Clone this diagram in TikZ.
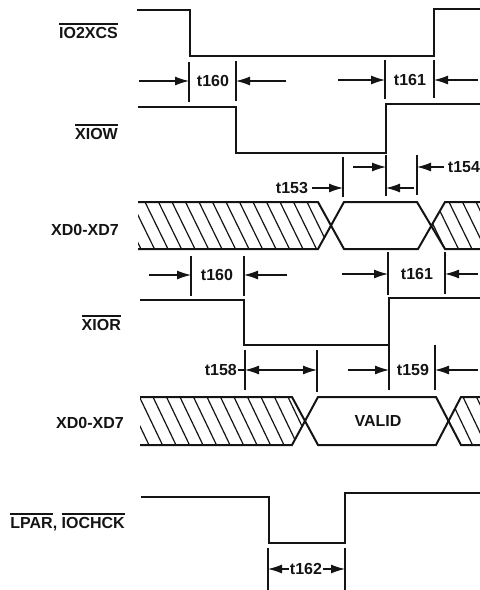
\documentclass[tikz,border=0pt]{standalone}
\usepackage{fontspec}
\setmainfont{Liberation Sans}
\usepackage{tikz}
\usetikzlibrary{arrows.meta,positioning,calc}
\definecolor{traceink}{RGB}{20,20,20}
\newcommand{\barsig}[1]{\begingroup\setbox0\hbox{#1}%
  \rlap{\rule[\dimexpr\ht0+2.2pt\relax]{\wd0}{1.3pt}}\box0\endgroup}

\begin{document}
\begin{tikzpicture}[
  x=1pt,y=-1pt,
  font=\bfseries\fontsize{16}{19}\selectfont,
  draw=traceink,text=traceink,
  signal/.style={line width=2pt,draw=traceink},
  tick/.style={line width=1.3pt,draw=traceink},
  dimarrow/.style={-{Latex[length=14pt,width=9pt]},line width=1.1pt,draw=traceink},
  bothways/.style={{Latex[length=14pt,width=9pt]}-{Latex[length=14pt,width=9pt]},line width=1.1pt,draw=traceink},
  hatch/.style={line width=1.2pt,draw=traceink},
  siglabel/.style={anchor=base east,inner sep=0pt},
  timelabel/.style={inner sep=1pt}
]
\useasboundingbox (0,0) rectangle (480,590);

% Signal names on the left.
\node[siglabel] (csName) at (118,38) {\barsig{IO2XCS}};
\node[siglabel] (iowName) at (118,139) {\barsig{XIOW}};
\node[siglabel] (busName1) at (119,235) {XD0-XD7};
\node[siglabel] (iorName) at (121,330) {\barsig{XIOR}};
\node[siglabel] (busName2) at (124,428) {XD0-XD7};
\node[siglabel] (parName) at (125,528) {\barsig{LPAR}, \barsig{IOCHCK}};

% Chip select and write strobe.
\draw[signal] (137,10) -- (190,10) -- (190,56) -- (434,56) -- (434,9) -- (480,9);
\draw[signal] (138,107) -- (236,107) -- (236,153) -- (386,153) -- (386,104) -- (480,104);

% t160 / t161 between IO2XCS and XIOW.
\coordinate (csFall) at (189,81);
\coordinate (iowFall) at (236,81);
\coordinate (iowRise) at (385,80);
\coordinate (csRise) at (434,80);
\draw[tick] (189,62) -- (189,102);
\draw[tick] (236,61) -- (236,101);
\draw[tick] (385,60) -- (385,99);
\draw[tick] (434,60) -- (434,98);
\node[timelabel] (t160a) at (213,81) {t160};
\node[timelabel] (t161a) at (410,80) {t161};
\draw[dimarrow] (139,81) -- (csFall);
\draw[dimarrow] (286,81) -- (iowFall);
\draw[dimarrow] (338,80) -- (iowRise);
\draw[dimarrow] (478,80) -- (csRise);

% t153 / t154 data setup and hold.
\coordinate (wrValid) at (343,188);
\coordinate (wrEdgeUp) at (386,167);
\coordinate (wrEdgeLo) at (386,188);
\coordinate (wrHold) at (417,167);
\draw[tick] (343,157) -- (343,197);
\draw[tick] (386,155) -- (386,196);
\draw[tick] (417,155) -- (417,195);
\node[timelabel,inner sep=4pt] (t153) at (292,188) {t153};
\node[timelabel,inner sep=4pt] (t154) at (464,167) {t154};
\draw[dimarrow] (t153.east) -- (wrValid);
\draw[dimarrow] (353,167) -- (wrEdgeUp);
\draw[dimarrow] (414,188) -- (wrEdgeLo);
\draw[dimarrow] (t154.west) -- (wrHold);

% Write data bus.
\begin{scope}
  \clip (138,202) -- (318,202) -- (331,225.5) -- (318,249) -- (138,249) -- cycle;
  \foreach \k in {0,...,15} \draw[hatch] (118+13.5*\k,202) -- (141+13.5*\k,249);
\end{scope}
\begin{scope}
  \clip (431,225.5) -- (445,202) -- (480,202) -- (480,249) -- (445,249) -- cycle;
  \foreach \k in {0,...,4} \draw[hatch] (422+13.5*\k,202) -- (445+13.5*\k,249);
\end{scope}
\draw[signal] (138,202) -- (318,202) -- (344,249) -- (418,249) -- (445,202) -- (480,202);
\draw[signal] (138,249) -- (318,249) -- (344,202) -- (417,202) -- (445,249) -- (480,249);

% t160 / t161 between IO2XCS and XIOR.
\coordinate (csFallB) at (191,275);
\coordinate (iorFall) at (244,275);
\coordinate (iorRise) at (388,274);
\coordinate (csRiseB) at (445,274);
\draw[tick] (191,256) -- (191,296);
\draw[tick] (244,256) -- (244,296);
\draw[tick] (388,252) -- (388,295);
\draw[tick] (445,252) -- (445,294);
\node[timelabel] (t160b) at (217,275) {t160};
\node[timelabel] (t161b) at (417,274) {t161};
\draw[dimarrow] (149,275) -- (csFallB);
\draw[dimarrow] (287,275) -- (iorFall);
\draw[dimarrow] (342,274) -- (iorRise);
\draw[dimarrow] (478,274) -- (csRiseB);

% Read strobe.
\draw[signal] (140,300) -- (244,300) -- (244,345) -- (389,345) -- (389,298) -- (480,298);

% t158 / t159 read data valid.
\coordinate (rdStart) at (245,370);
\coordinate (rdValid) at (317,370);
\coordinate (rdEdge) at (389,370);
\coordinate (rdHold) at (435,370);
\draw[tick] (245,350) -- (245,390);
\draw[tick] (317,350) -- (317,392);
\draw[tick] (389,345) -- (389,390);
\draw[tick] (435,345) -- (435,390);
\node[timelabel,anchor=east] (t158) at (238,370) {t158};
\node[timelabel] (t159) at (413,370) {t159};
\draw[line width=1.1pt] (t158.east) -- (rdStart);
\draw[bothways] (rdStart) -- (rdValid);
\draw[dimarrow] (348,370) -- (rdEdge);
\draw[dimarrow] (478,370) -- (rdHold);

% Read data bus.
\begin{scope}
  \clip (140,397) -- (292,397) -- (305,421) -- (292,445) -- (140,445) -- cycle;
  \foreach \k in {0,...,12} \draw[hatch] (126+13.5*\k,397) -- (149+13.5*\k,445);
\end{scope}
\begin{scope}
  \clip (449,421) -- (461,397) -- (480,397) -- (480,445) -- (461,445) -- cycle;
  \foreach \k in {0,...,3} \draw[hatch] (436+13.5*\k,397) -- (459+13.5*\k,445);
\end{scope}
\draw[signal] (140,397) -- (292,397) -- (318,445) -- (436,445) -- (461,397) -- (480,397);
\draw[signal] (140,445) -- (292,445) -- (318,397) -- (436,397) -- (461,445) -- (480,445);
\node (valid) at (378,421) {VALID};

% Parity / channel check pulse.
\draw[signal] (141,497) -- (269,497) -- (269,543) -- (345,543) -- (345,493) -- (480,493);
\coordinate (parFall) at (268,569);
\coordinate (parRise) at (345,569);
\draw[tick] (268,548) -- (268,590);
\draw[tick] (345,548) -- (345,590);
\node[timelabel] (t162) at (306,569) {t162};
\draw[dimarrow] (t162.west) -- (parFall);
\draw[dimarrow] (t162.east) -- (parRise);
\end{tikzpicture}
\end{document}
